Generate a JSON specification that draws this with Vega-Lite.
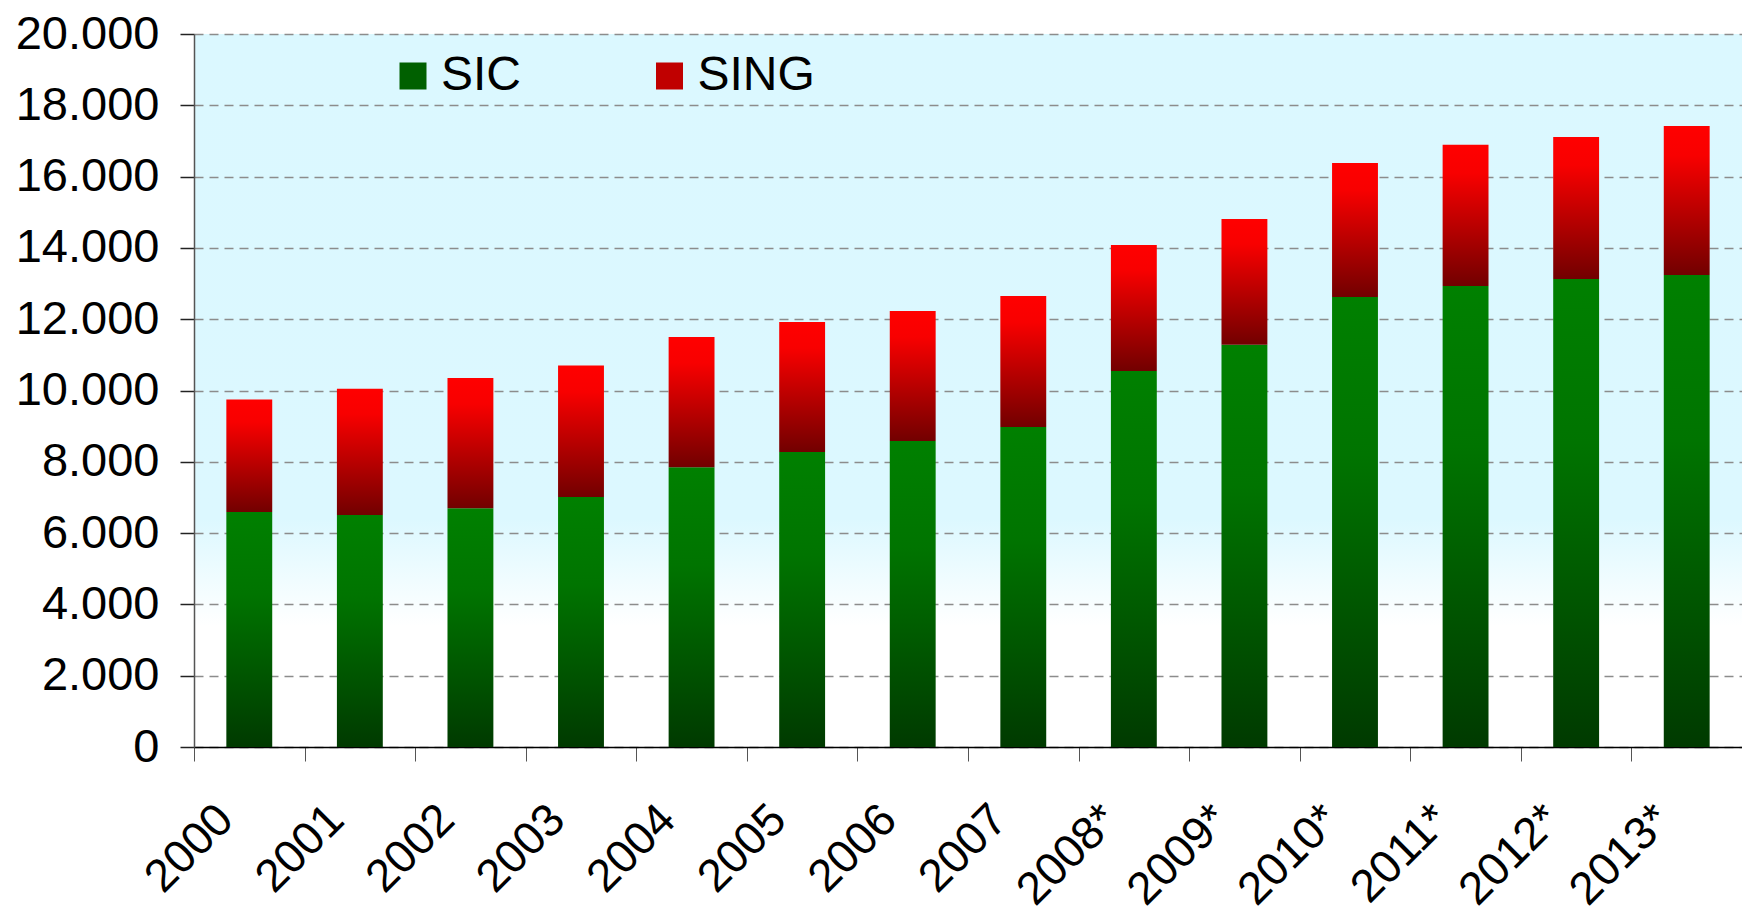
{
  "$schema": "https://vega.github.io/schema/vega-lite/v6.json",
  "autosize": {"type": "none"},
  "padding": {"left": 194, "top": 34, "right": 0, "bottom": 164},
  "width": 1548,
  "height": 713,
  "background": "#ffffff",
  "config": {
    "font": "Liberation Sans",
    "view": {
      "stroke": null,
      "fill": {"gradient": "linear", "x1": 0, "y1": 0, "x2": 0, "y2": 1,
        "stops": [
          {"offset": 0, "color": "#dbf8ff"},
          {"offset": 0.68, "color": "#dcf8ff"},
          {"offset": 0.83, "color": "#ffffff"},
          {"offset": 1, "color": "#ffffff"}
        ]}
    }
  },
  "data": {
    "values": [
      {"year": "2000", "SIC": 6590, "SING": 3160},
      {"year": "2001", "SIC": 6510, "SING": 3540},
      {"year": "2002", "SIC": 6700, "SING": 3650},
      {"year": "2003", "SIC": 7010, "SING": 3690},
      {"year": "2004", "SIC": 7850, "SING": 3650},
      {"year": "2005", "SIC": 8275, "SING": 3645},
      {"year": "2006", "SIC": 8580, "SING": 3650},
      {"year": "2007", "SIC": 8975, "SING": 3675},
      {"year": "2008*", "SIC": 10550, "SING": 3530},
      {"year": "2009*", "SIC": 11280, "SING": 3530},
      {"year": "2010*", "SIC": 12620, "SING": 3760},
      {"year": "2011*", "SIC": 12930, "SING": 3960},
      {"year": "2012*", "SIC": 13130, "SING": 3980},
      {"year": "2013*", "SIC": 13240, "SING": 4180}
    ]
  },
  "transform": [
    {"fold": ["SIC", "SING"], "as": ["series", "value"]}
  ],
  "mark": {"type": "bar"},
  "encoding": {
    "x": {
      "field": "year",
      "type": "nominal",
      "sort": null,
      "scale": {"paddingInner": 0.585, "paddingOuter": 0.2925},
      "axis": {
        "title": null,
        "labelAngle": -45,
        "labelAlign": "right",
        "labelBaseline": "middle",
        "labelFontSize": 46,
        "labelColor": "#000000",
        "labelPadding": 51,
        "bandPosition": 0,
        "tickOffset": -32.3,
        "tickExtra": false,
        "labelOffset": 8.3,
        "tickSize": 14,
        "tickColor": "#555555",
        "tickWidth": 1,
        "domainColor": "#000000",
        "domainWidth": 1.5,
        "grid": false,
        "labelOverlap": false
      }
    },
    "y": {
      "field": "value",
      "type": "quantitative",
      "stack": "zero",
      "scale": {"domain": [0, 20000], "nice": false},
      "axis": {
        "title": null,
        "values": [0, 2000, 4000, 6000, 8000, 10000, 12000, 14000, 16000, 18000, 20000],
        "labelExpr": "replace(format(datum.value, ','), ',', '.')",
        "labelFontSize": 47,
        "labelColor": "#000000",
        "labelPadding": 21,
        "tickSize": 14,
        "tickColor": "#222222",
        "tickWidth": 1.5,
        "domainColor": "#555555",
        "domainWidth": 1.5,
        "grid": true,
        "gridColor": "#8c8c8c",
        "gridDash": [9, 6],
        "gridWidth": 1.3
      }
    },
    "order": {"field": "series", "sort": "ascending"},
    "fill": {
      "condition": [
        {"test": "datum.series === 'SIC'", "value": {"gradient": "linear", "x1": 0, "y1": 0, "x2": 0, "y2": 1,
            "stops": [{"offset": 0, "color": "#008000"}, {"offset": 0.35, "color": "#007400"}, {"offset": 1, "color": "#003a00"}]}},
        {"test": "datum.series === 'SING'", "value": {"gradient": "linear", "x1": 0, "y1": 0, "x2": 0, "y2": 1,
            "stops": [{"offset": 0, "color": "#ff0000"}, {"offset": 0.2, "color": "#f80000"}, {"offset": 1, "color": "#720000"}]}}
      ],
      "field": "series",
      "type": "nominal",
      "scale": {"domain": ["SIC", "SING"], "range": ["#006000", "#c00000"]},
      "legend": {
        "title": null,
        "orient": "none",
        "direction": "horizontal",
        "legendX": 195,
        "legendY": 18,
        "padding": 0,
        "symbolType": "square",
        "symbolSize": 729,
        "symbolStrokeWidth": 0,
        "labelFontSize": 48,
        "labelColor": "#000000",
        "labelOffset": 4,
        "columnPadding": 123.5,
        "labelLimit": 400,
        "encode": {
          "symbols": {
            "update": {
              "fill": [
                {"test": "datum.value === 'SIC'", "value": {"gradient": "linear", "x1": 0, "y1": 0, "x2": 0, "y2": 1,
                  "stops": [{"offset": 0, "color": "#008000"}, {"offset": 1, "color": "#003a00"}]}},
                {"value": {"gradient": "linear", "x1": 0, "y1": 0, "x2": 0, "y2": 1,
                  "stops": [{"offset": 0, "color": "#ff0000"}, {"offset": 1, "color": "#720000"}]}}
              ]
            }
          }
        }
      }
    }
  }
}
